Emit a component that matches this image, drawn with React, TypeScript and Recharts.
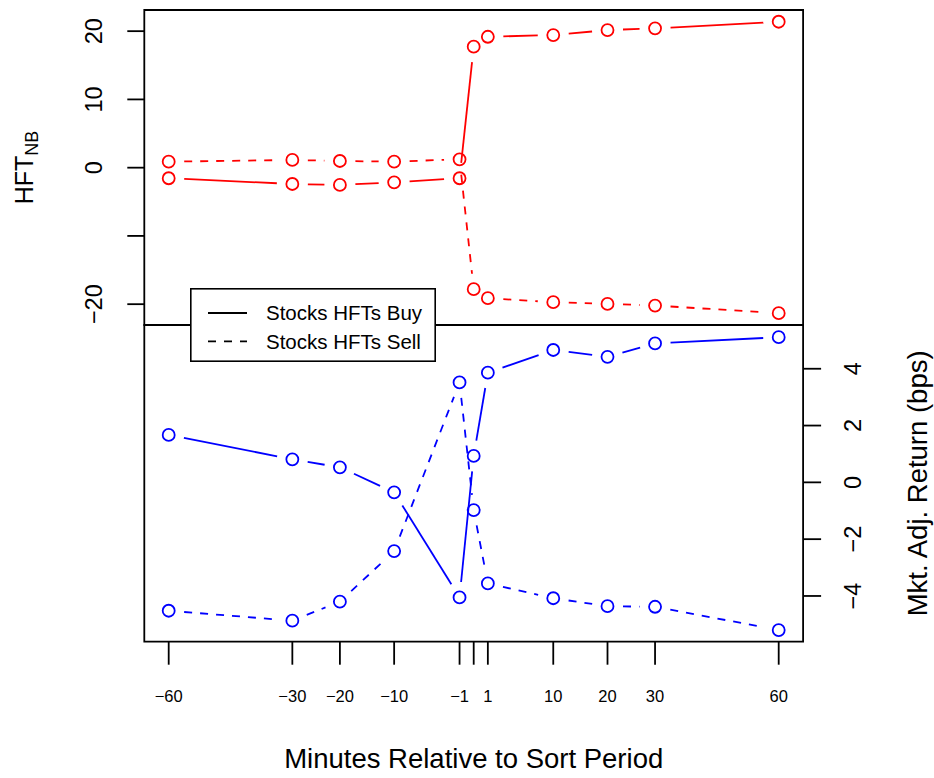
import { LineChart, Line, XAxis, YAxis, ReferenceArea, Label, Legend } from "recharts";

const MINUTES = [-60, -30, -20, -10, -1, 0, 1, 10, 20, 30, 60];
const MINUTE_LABELS = ["\u221260", "\u221230", "\u221220", "\u221210", "\u22121", "", "1", "10", "20", "30", "60"];

const SERIES_NAMES = ["Stocks HFTs Buy", "Stocks HFTs Sell"];

// top panel: HFT net buying
const HFT_BUY = [-1.55, -2.39, -2.53, -2.14, -1.55, 17.72, 19.18, 19.43, 20.16, 20.41, 21.38];
const HFT_SELL = [0.88, 1.13, 0.98, 0.88, 1.23, -17.8, -19.12, -19.71, -19.96, -20.2, -21.32];
const HFT_TICKS = [-20, -10, 0, 10, 20];
const HFT_TICK_LABELS = ["\u221220", "", "0", "10", "20"];

// bottom panel: market adjusted return (bps)
const RET_BUY = [1.67, 0.81, 0.53, -0.35, -4.05, 0.93, 3.86, 4.66, 4.42, 4.89, 5.11];
const RET_SELL = [-4.52, -4.87, -4.2, -2.42, 3.52, -0.98, -3.56, -4.08, -4.36, -4.38, -5.2];
const RET_TICKS = [-4, -2, 0, 2, 4];
const RET_TICK_LABELS = ["\u22124", "\u22122", "0", "2", "4"];

const FONT = '"Liberation Sans", Arial, Helvetica, sans-serif';
const RED = "#ff0000";
const BLUE = "#0000ff";
const LW = 1.8;
const DASH = "8 8";
const GAP = 15.5; // R type="b" gap around each point

const W = 934;
const H = 778;
const PLOT_LEFT = 144.3;
const PLOT_RIGHT = 803.1;
const PANEL_TOP = 10;
const PANEL_SPLIT = 325;
const PANEL_BOTTOM = 641.7;

// x axis is drawn on a |x|^0.75 scale
const warp = (m: number) => Math.sign(m) * Math.pow(Math.abs(m), 0.75);
const X_LIM = warp(60) * 1.08;
const HFT_DOMAIN: [number, number] = [-23.05, 23.1];
const RET_DOMAIN: [number, number] = [-5.61, 5.54];

const topData = MINUTES.map((m, i) => ({ t: warp(m), buy: HFT_BUY[i], sell: HFT_SELL[i] }));
const bottomData = MINUTES.map((m, i) => ({ t: warp(m), buy: RET_BUY[i], sell: RET_SELL[i] }));

const dashFor: Record<string, string | undefined> = {
  [SERIES_NAMES[0]]: undefined,
  [SERIES_NAMES[1]]: DASH,
};

function typeBDot(color: string, dash?: string) {
  return (props: any) => {
    const { cx, cy, index, points } = props;
    const next = points ? points[index + 1] : undefined;
    let seg = null;
    if (next && cx != null && next.x != null && next.y != null) {
      const dx = next.x - cx;
      const dy = next.y - cy;
      const len = Math.hypot(dx, dy);
      if (len > 2 * GAP) {
        const ux = dx / len;
        const uy = dy / len;
        seg = (
          <line
            x1={cx + ux * GAP}
            y1={cy + uy * GAP}
            x2={next.x - ux * GAP}
            y2={next.y - uy * GAP}
            stroke={color}
            strokeWidth={LW}
            strokeDasharray={dash}
          />
        );
      }
    }
    return (
      <g key={`pt-${index}`}>
        {seg}
        <circle cx={cx} cy={cy} r={6} fill="none" stroke={color} strokeWidth={LW} />
      </g>
    );
  };
}

const RotTick = ({ x, y, payload, ticks, labels }: any) => {
  const label = labels[ticks.indexOf(payload.value)] ?? "";
  return (
    <text
      x={x}
      y={y}
      transform={`rotate(-90 ${x} ${y})`}
      textAnchor="middle"
      fontSize={23.5}
      fontFamily={FONT}
      fill="#000"
    >
      {label}
    </text>
  );
};

const HftTitle = ({ viewBox }: any) => {
  const cy = viewBox ? viewBox.y + viewBox.height / 2 : (PANEL_TOP + PANEL_SPLIT) / 2;
  return (
    <text x={33} y={cy} transform={`rotate(-90 33 ${cy})`} textAnchor="middle" fontFamily={FONT} fill="#000">
      <tspan fontSize={25}>HFT</tspan>
      <tspan fontSize={18} dy={5}>NB</tspan>
    </text>
  );
};

const ReturnTitle = ({ viewBox }: any) => {
  const cy = viewBox ? viewBox.y + viewBox.height / 2 : (PANEL_SPLIT + PANEL_BOTTOM) / 2;
  return (
    <text x={927} y={cy} transform={`rotate(-90 927 ${cy})`} textAnchor="middle" fontSize={27.5} fontFamily={FONT} fill="#000">
      Mkt. Adj. Return (bps)
    </text>
  );
};

const LegendBox = (props: any) => {
  const names: string[] = props.payload && props.payload.length ? props.payload.map((p: any) => p.value) : SERIES_NAMES;
  return (
    <svg width={246} height={74} style={{ display: "block" }}>
      <rect x={0.8} y={0.8} width={244.4} height={72.4} fill="#fff" stroke="#000" strokeWidth={1.6} />
      {names.map((name, i) => {
        const y = 25 + i * 28.4;
        return (
          <g key={name}>
            <line x1={18} x2={57} y1={y} y2={y} stroke="#000" strokeWidth={LW} strokeDasharray={dashFor[name]} />
            <text x={76} y={y + 7.3} fontSize={20.5} fontFamily={FONT} fill="#000">
              {name}
            </text>
          </g>
        );
      })}
    </svg>
  );
};

const tickFmt = (v: number) => {
  const i = MINUTES.findIndex((m) => Math.abs(warp(m) - v) < 1e-6);
  return i >= 0 ? MINUTE_LABELS[i] : "";
};

export default function App() {
  return (
    <div style={{ position: "absolute", left: 0, top: 0, width: W, height: H, background: "#fff" }}>
      <div style={{ position: "absolute", left: 0, top: 0 }}>
        <LineChart
          width={W}
          height={PANEL_SPLIT + 1}
          data={topData}
          margin={{ top: PANEL_TOP, right: W - PLOT_RIGHT, bottom: 1, left: 0 }}
        >
          <XAxis type="number" dataKey="t" domain={[-X_LIM, X_LIM]} allowDataOverflow hide />
          <YAxis
            type="number"
            domain={HFT_DOMAIN}
            allowDataOverflow
            ticks={HFT_TICKS}
            interval={0}
            width={PLOT_LEFT}
            axisLine={false}
            tickSize={17}
            tickMargin={25}
            tickLine={{ stroke: "#000", strokeWidth: LW }}
            tick={<RotTick ticks={HFT_TICKS} labels={HFT_TICK_LABELS} />}
          >
            <Label content={<HftTitle />} />
          </YAxis>
          <ReferenceArea
            x1={-X_LIM}
            x2={X_LIM}
            y1={HFT_DOMAIN[0]}
            y2={HFT_DOMAIN[1]}
            fill="none"
            stroke="#000"
            strokeWidth={LW}
            fillOpacity={0}
          />
          <Line
            dataKey="buy"
            name={SERIES_NAMES[0]}
            stroke="none"
            dot={typeBDot(RED)}
            activeDot={false}
            isAnimationActive={false}
          />
          <Line
            dataKey="sell"
            name={SERIES_NAMES[1]}
            stroke="none"
            dot={typeBDot(RED, DASH)}
            activeDot={false}
            isAnimationActive={false}
          />
        </LineChart>
      </div>
      <div style={{ position: "absolute", left: 0, top: 0 }}>
        <LineChart
          width={W}
          height={H}
          data={bottomData}
          margin={{ top: PANEL_SPLIT, right: 0, bottom: 0, left: PLOT_LEFT }}
        >
          <XAxis
            type="number"
            dataKey="t"
            domain={[-X_LIM, X_LIM]}
            allowDataOverflow
            ticks={MINUTES.map(warp)}
            interval={0}
            tickFormatter={tickFmt}
            height={H - PANEL_BOTTOM}
            axisLine={false}
            tickSize={23}
            tickMargin={26}
            tickLine={{ stroke: "#000", strokeWidth: LW }}
            tick={{ fill: "#000", fontSize: 16.5, fontFamily: FONT }}
          >
            <Label
              value="Minutes Relative to Sort Period"
              position="insideBottom"
              offset={10}
              fill="#000"
              fontSize={27.5}
              fontFamily={FONT}
            />
          </XAxis>
          <YAxis
            type="number"
            orientation="right"
            domain={RET_DOMAIN}
            allowDataOverflow
            ticks={RET_TICKS}
            interval={0}
            width={W - PLOT_RIGHT}
            axisLine={false}
            tickSize={18}
            tickMargin={40}
            tickLine={{ stroke: "#000", strokeWidth: LW }}
            tick={<RotTick ticks={RET_TICKS} labels={RET_TICK_LABELS} />}
          >
            <Label content={<ReturnTitle />} />
          </YAxis>
          <ReferenceArea
            x1={-X_LIM}
            x2={X_LIM}
            y1={RET_DOMAIN[0]}
            y2={RET_DOMAIN[1]}
            fill="none"
            stroke="#000"
            strokeWidth={LW}
            fillOpacity={0}
          />
          <Line
            dataKey="buy"
            name={SERIES_NAMES[0]}
            stroke="none"
            dot={typeBDot(BLUE)}
            activeDot={false}
            isAnimationActive={false}
          />
          <Line
            dataKey="sell"
            name={SERIES_NAMES[1]}
            stroke="none"
            dot={typeBDot(BLUE, DASH)}
            activeDot={false}
            isAnimationActive={false}
          />
          <Legend
            layout="horizontal"
            verticalAlign="middle"
            align="center"
            wrapperStyle={{ left: 190, top: 288.3, width: 246, height: 74 }}
            content={<LegendBox />}
          />
        </LineChart>
      </div>
    </div>
  );
}
